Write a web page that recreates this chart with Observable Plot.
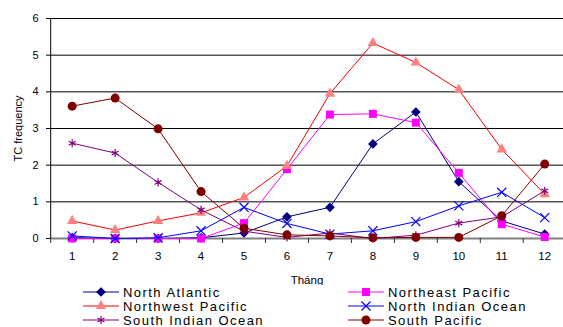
<!DOCTYPE html>
<html><head><meta charset="utf-8">
<script src="https://cdn.jsdelivr.net/npm/d3@7"></script>
<script src="https://cdn.jsdelivr.net/npm/@observablehq/plot@0.6"></script>
<style>
body{margin:0;background:#fff;font-family:"Liberation Sans",Arial,sans-serif;}
#wrap{position:relative;width:563px;height:327px;overflow:hidden;background:#fff;}
#legend{position:absolute;left:0;top:285px;width:563px;height:42px;background:#fff;}
.item{position:absolute;height:14px;display:flex;align-items:center;font-size:13px;letter-spacing:1.45px;color:#000;white-space:nowrap;}
.item svg{margin-right:4px;}
</style></head>
<body><div id="wrap"><div id="chart"></div><div id="legend"></div></div>
<script>
const months = [1,2,3,4,5,6,7,8,9,10,11,12];
const seriesNames = ["North Atlantic","Northeast Pacific","Northwest Pacific","North Indian Ocean","South Indian Ocean","South Pacific"];
const northAtlantic    = [0.02,0.00,0.00,0.02,0.15,0.59,0.85,2.58,3.45,1.55,0.48,0.12];
const northeastPacific = [0.00,0.00,0.00,0.00,0.42,1.89,3.38,3.40,3.16,1.79,0.39,0.04];
const northwestPacific = [0.48,0.23,0.48,0.70,1.12,1.98,3.95,5.33,4.80,4.06,2.43,1.21];
const northIndian      = [0.07,0.00,0.02,0.21,0.85,0.41,0.12,0.21,0.46,0.89,1.26,0.57];
const southIndian      = [2.60,2.33,1.53,0.78,0.20,0.03,0.15,0.00,0.09,0.42,0.59,1.30];
const southPacific     = [3.61,3.83,2.99,1.28,0.28,0.10,0.07,0.02,0.03,0.03,0.62,2.03];
const yTicks = [0,1,2,3,4,5,6];
const xLabel = "Tháng";
const yLabel = "TC frequency";

const values = [northAtlantic,northeastPacific,northwestPacific,northIndian,southIndian,southPacific];
const styles = [
  {line:"#000080", fill:"#000080", stroke:"#000080", symbol:"diamond2", r:3.6},
  {line:"#FF00FF", fill:"#FF00FF", stroke:"none", symbol:"square", r:4.5},
  {line:"#FF0000", fill:"#FF8080", stroke:"none", symbol:"triangle", r:3.9},
  {line:"#0000FF", fill:"none", stroke:"#0000FF", symbol:"times", r:4.2},
  {line:"#800080", fill:"none", stroke:"#800080", symbol:"asterisk", r:3.8},
  {line:"#800000", fill:"#800000", stroke:"none", symbol:"circle", r:4.5}
];
const table = seriesNames.flatMap((s,i)=>months.map((m,j)=>({series:s, month:m, value:values[i][j]})));

const seriesMarks = seriesNames.flatMap((s,i)=>{
  const d = table.filter(t=>t.series===s);
  const st = styles[i];
  return [
    Plot.line(d,{x:"month",y:"value",stroke:st.line,strokeWidth:1}),
    Plot.dot(d,{x:"month",y:"value",symbol:()=>st.symbol,r:st.r,fill:st.fill,stroke:st.stroke,strokeWidth:1.2})
  ];
});

const chart = Plot.plot({
  width:563, height:285,
  marginLeft:50, marginRight:0, marginTop:18, marginBottom:47,
  x:{domain:[0.5,12.5], range:[50.2,565.7]},
  y:{domain:[0,6]},
  symbol:{type:"identity"},
  style:{fontFamily:"'Liberation Sans',Arial,sans-serif", fontSize:"11px", color:"#000", background:"white", overflow:"visible"},
  marks:[
    Plot.ruleY(yTicks.filter(v=>v>0),{stroke:"#000",strokeWidth:1}),
    Plot.ruleY([0],{stroke:"#808080",strokeWidth:2}),
    Plot.ruleX([0.5],{y1:0,y2:6,stroke:"#000",strokeWidth:1}),
    Plot.axisY({ticks:yTicks, tickSize:4, tickPadding:8, tickFormat:d=>String(d), label:yLabel, labelAnchor:"center", labelArrow:"none", labelOffset:36, fontSize:11, style:{letterSpacing:"0.8px"}}),
    Plot.axisX({ticks:months.map(m=>m-0.5).concat([12.5]), tickSize:5, tickFormat:()=>"", label:null, stroke:"#333"}),
    Plot.axisX({ticks:months, tickSize:0, tickPadding:13, tickFormat:d=>String(d), label:xLabel, labelAnchor:"center", labelArrow:"none", labelOffset:45, fontSize:11.5, style:{letterSpacing:"0.8px"}}),
    ...seriesMarks
  ]
});
document.getElementById("chart").appendChild(chart);

// legend
const legendPos = [
  {left:83, top:0},{left:348, top:0},
  {left:83, top:14},{left:348, top:14},
  {left:83, top:28},{left:348, top:28}
];
const symMap = {diamond2:d3.symbolDiamond2, square:d3.symbolSquare, triangle:d3.symbolTriangle, times:d3.symbolTimes, asterisk:d3.symbolAsterisk, circle:d3.symbolCircle};
const legend = document.getElementById("legend");
seriesNames.forEach((s,i)=>{
  const st = styles[i];
  const div = document.createElement("div");
  div.className="item";
  div.style.left = legendPos[i].left+"px";
  div.style.top = legendPos[i].top+"px";
  const path = d3.symbol(symMap[st.symbol], Math.PI*st.r*st.r)();
  div.innerHTML = `<svg width="36" height="14"><line x1="0" x2="36" y1="7" y2="7" stroke="${st.line}" stroke-width="1"/><path transform="translate(18,7)" d="${path}" fill="${st.fill}" stroke="${st.stroke}" stroke-width="1.2"/></svg><span>${s}</span>`;
  legend.appendChild(div);
});
</script></body></html>
